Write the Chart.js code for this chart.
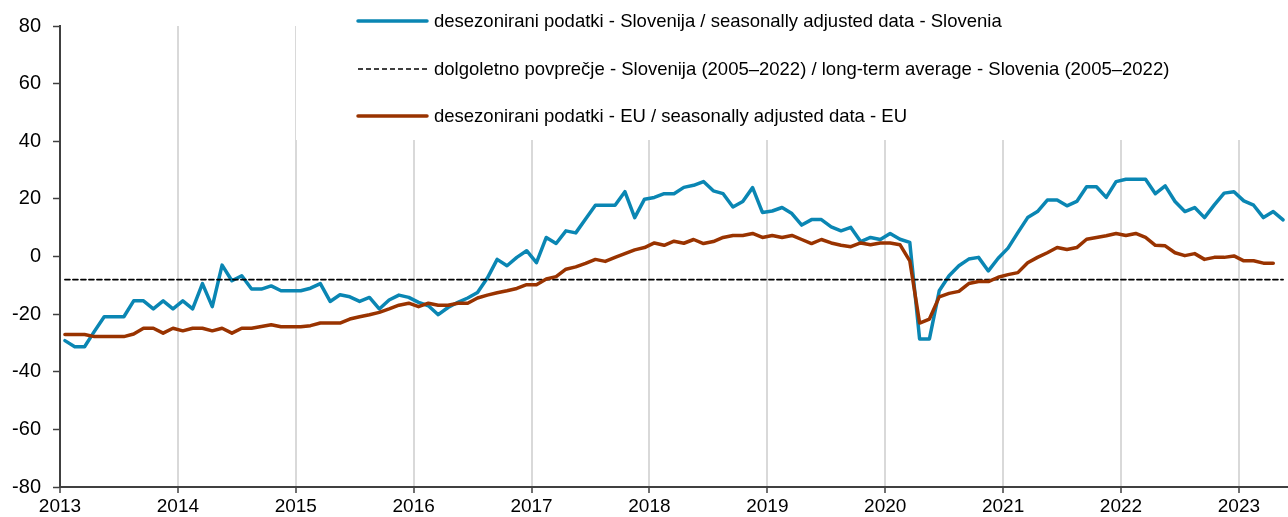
<!DOCTYPE html>
<html>
<head>
<meta charset="utf-8">
<script src="https://cdn.jsdelivr.net/npm/chart.js@4"></script>
<style>
  body { margin: 0; background: #fff; }
  #wrap { width: 1288px; height: 517px; position: relative; }
</style>
</head>
<body>
<div id="wrap"><canvas id="myChart"></canvas></div>
<script>
// years shown on the axis, months are the categories
const years = [2013, 2014, 2015, 2016, 2017, 2018, 2019, 2020, 2021, 2022, 2023];
const monthNames = ['jan', 'feb', 'mar', 'apr', 'maj', 'jun', 'jul', 'avg', 'sep', 'okt', 'nov', 'dec'];
const months = [];
years.forEach(y => monthNames.forEach(m => months.push(m + ' ' + y)));
months.length = 125; // jan 2013 - maj 2023

// desezonirani podatki - Slovenija
const sloSA = [
  -29.2, -31.3, -31.3, -26, -20.9, -20.9, -20.9, -15.4, -15.4, -18.2, -15.4, -18.2,
  -15.4, -18.2, -9.4, -17.4, -3.0, -8.4, -6.7, -11.3, -11.3, -10.2, -11.9, -11.9,
  -11.9, -11.0, -9.4, -15.6, -13.3, -14.0, -15.6, -14.2, -18.2, -15.1, -13.4, -14.2,
  -15.9, -17.1, -20.2, -17.7, -15.9, -14.4, -12.5, -7.5, -1.0, -3.2, -0.3, 2.0,
  -2.1, 6.6, 4.5, 8.9, 8.2, 13.0, 17.8, 17.8, 17.8, 22.5, 13.5, 19.9,
  20.5, 21.8, 21.8, 24.0, 24.7, 26.0, 22.8, 21.8, 17.2, 19.1, 23.9, 15.3,
  15.8, 17.0, 14.9, 10.9, 12.8, 12.8, 10.3, 8.9, 10.1, 5.2, 6.6, 5.9,
  8.0, 6.0, 4.9, -28.6, -28.6, -11.9, -6.7, -3.2, -0.9, -0.3, -5.0, -0.6,
  2.9, 8.3, 13.5, 15.6, 19.6, 19.6, 17.6, 19.1, 24.2, 24.2, 20.5, 26.0,
  26.8, 26.8, 26.8, 21.8, 24.5, 19.1, 15.6, 17.0, 13.5, 17.9, 22.0, 22.5,
  19.3, 17.8, 13.5, 15.6, 12.7
];

// desezonirani podatki - EU
const euSA = [
  -27.1, -27.1, -27.1, -27.8, -27.8, -27.8, -27.8, -26.9, -24.9, -24.9, -26.6, -24.9,
  -25.8, -24.9, -24.9, -25.8, -24.9, -26.6, -24.9, -24.9, -24.3, -23.7, -24.4, -24.4,
  -24.4, -24.0, -23.1, -23.1, -23.1, -21.7, -20.9, -20.2, -19.4, -18.2, -16.9, -16.2,
  -17.4, -16.2, -16.9, -16.9, -16.2, -16.2, -14.4, -13.4, -12.6, -11.9, -11.1, -9.8,
  -9.8, -7.8, -7.0, -4.4, -3.6, -2.4, -1.0, -1.7, -0.3, 1.0, 2.3, 3.1,
  4.7, 3.9, 5.3, 4.6, 5.9, 4.5, 5.2, 6.6, 7.3, 7.3, 8.0, 6.6,
  7.3, 6.6, 7.3, 5.9, 4.5, 5.9, 4.7, 3.9, 3.4, 4.7, 4.1, 4.7,
  4.7, 4.1, -1.5, -23.1, -21.7, -14.0, -12.8, -12.1, -9.4, -8.7, -8.7, -7.2,
  -6.3, -5.6, -2.2, -0.3, 1.3, 3.1, 2.4, 3.1, 6.0, 6.6, 7.2, 8.0,
  7.3, 8.0, 6.6, 3.9, 3.7, 1.3, 0.3, 1.0, -1.0, -0.3, -0.3, 0.2,
  -1.5, -1.5, -2.3, -2.3
];

// dolgoletno povprečje - Slovenija (2005–2022)
const longTermAvg = -8;

const yTicks = { min: -80, max: 80, step: 20 };

const FONT = '"Liberation Sans", Arial, sans-serif';
const catWidth = (1288 - 60) / months.length;

// legend drawn inside the plot, on a white box
const insideLegend = {
  id: 'insideLegend',
  beforeDatasetsDraw(chart) {
    const c = chart.ctx;
    c.save();
    c.fillStyle = '#fff';
    c.fillRect(296, 0, chart.width - 296, 140);
    c.restore();
  },
  afterDatasetsDraw(chart) {
    const c = chart.ctx;
    const rows = [21, 69, 116];
    c.save();
    [0, 1, 2].forEach((di, r) => {
      const ds = chart.data.datasets[di];
      c.beginPath();
      c.setLineDash(ds.borderDash || []);
      c.lineWidth = ds.borderWidth;
      c.lineCap = ds.borderDash ? 'butt' : 'round';
      c.strokeStyle = ds.borderColor;
      c.moveTo(358, rows[r]);
      c.lineTo(427, rows[r]);
      c.stroke();
      c.setLineDash([]);
      c.fillStyle = '#000';
      c.font = '18.5px ' + FONT;
      c.textBaseline = 'middle';
      c.fillText(ds.label, 434, rows[r] + 1);
    });
    c.restore();
  }
};

const ctx = document.getElementById('myChart');

new Chart(ctx, {
  type: 'line',
  data: {
    labels: months,
    datasets: [{
      label: 'desezonirani podatki - Slovenija / seasonally adjusted data - Slovenia',
      data: sloSA,
      borderColor: '#0a86b3',
      borderWidth: 3.5,
      order: 2
    }, {
      label: 'dolgoletno povprečje - Slovenija (2005–2022) / long-term average - Slovenia (2005–2022)',
      data: [{ x: months[0], y: longTermAvg }, { x: months[months.length - 1], y: longTermAvg }],
      borderColor: '#000',
      borderWidth: 1.7,
      borderDash: [5, 3],
      order: 1
    }, {
      label: 'desezonirani podatki - EU / seasonally adjusted data - EU',
      data: euSA,
      borderColor: '#993300',
      borderWidth: 3.5,
      order: 0
    }]
  },
  options: {
    responsive: true,
    maintainAspectRatio: false,
    animation: false,
    layout: { padding: { top: 26, right: 0, left: 0, bottom: 0 } },
    elements: {
      point: { radius: 0 },
      line: { tension: 0, borderCapStyle: 'round', borderJoinStyle: 'round' }
    },
    plugins: {
      legend: { display: false },
      tooltip: { enabled: false }
    },
    scales: {
      x: {
        offset: true,
        afterFit: s => { s.height = 30; },
        grid: {
          offset: true,
          lineWidth: 2,
          tickLength: 6,
          tickWidth: 1.5,
          color: c => (c.index % 12 === 0 && c.index < months.length) ? '#d9d9d9' : 'transparent',
          tickColor: c => (c.index % 12 === 0 && c.index < months.length) ? '#404040' : 'transparent'
        },
        border: { color: '#404040', width: 2 },
        ticks: {
          autoSkip: false,
          maxRotation: 0,
          minRotation: 0,
          padding: 2,
          labelOffset: -catWidth / 2,
          color: '#000',
          font: { family: FONT, size: 19 },
          callback: (v, i) => i % 12 === 0 ? String(years[i / 12]) : ''
        }
      },
      y: {
        min: yTicks.min,
        max: yTicks.max,
        afterFit: s => { s.width = 60; },
        grid: {
          drawOnChartArea: false,
          tickLength: 7,
          tickWidth: 1.5,
          tickColor: '#404040'
        },
        border: { color: '#404040', width: 2 },
        ticks: {
          stepSize: yTicks.step,
          padding: 12,
          color: '#000',
          font: { family: FONT, size: 20 }
        }
      }
    }
  },
  plugins: [insideLegend]
});
</script>
</body>
</html>
